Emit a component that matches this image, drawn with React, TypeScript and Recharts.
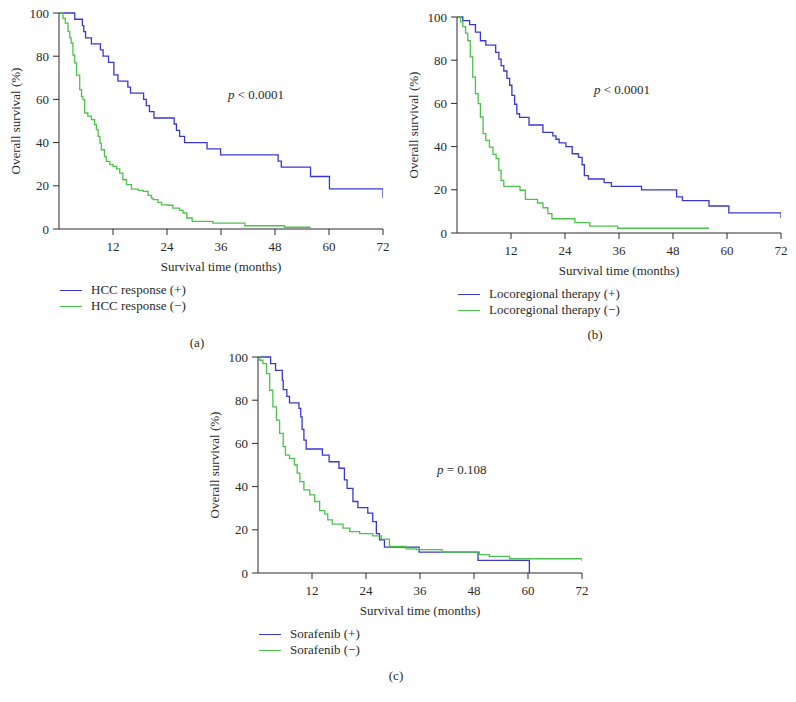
import { LineChart, Line, XAxis, YAxis } from 'recharts'

// (a) HCC response
const hccPosTime = [0, 3.5, 5.2, 5.5, 5.9, 7.2, 9.2, 9.8, 11, 12.2, 13.1, 15.3, 15.9, 18.8, 19.4, 20.1, 21.1, 25.6, 26.1, 26.8, 27.9, 32.9, 35.9, 48.7, 49.4, 55.9, 60.1, 72]
const hccPosSurv = [100, 97.1, 94.2, 91.4, 88.5, 85.7, 82.9, 80, 77.1, 71.4, 68.5, 65.7, 62.9, 60, 57.1, 54.3, 51.4, 48.6, 45.7, 42.9, 40, 37.1, 34.3, 31.4, 28.6, 24.3, 18.6, 14.3]
const hccNegTime = [0, 0.9, 1.4, 2, 2.4, 2.7, 3.1, 3.5, 3.9, 4.6, 5, 5.3, 5.7, 6.4, 7.2, 7.9, 8.3, 8.7, 9.1, 9.4, 10.1, 10.5, 11.3, 12, 12.8, 13.5, 14.2, 15, 16.1, 17.6, 18.7, 19.8, 20.5, 20.9, 22, 22.8, 24.2, 25.3, 26.8, 27.6, 28.4, 29.6, 34.2, 41.3, 50.1, 55.9]
const hccNegSurv = [100, 97.5, 95.3, 91.5, 88.5, 86.1, 80.5, 76.9, 71.2, 64.5, 61.4, 59.9, 53.7, 52.3, 50.6, 48.3, 46, 42.9, 39.8, 36.7, 33.5, 31.3, 29.8, 29, 27.8, 25.9, 22.8, 20.5, 18.5, 17.9, 17.4, 15.6, 14.3, 13.6, 12.3, 11.2, 11, 9.7, 8.6, 7.4, 5.1, 3.5, 2.7, 1.5, 0.8, 0.8]

// (b) Locoregional therapy
const locoPosTime = [0, 1.3, 2.8, 4.1, 5.2, 6.4, 8.6, 9.3, 9.8, 10.4, 11.1, 11.7, 12.2, 12.8, 13.3, 13.9, 16, 19.1, 21.3, 22, 22.7, 24.2, 25.6, 27, 27.8, 28.3, 29.2, 32.7, 34.3, 41, 48.8, 50.1, 56, 60.4, 72]
const locoPosSurv = [100, 98.3, 96.5, 93, 89, 87, 83.6, 80.5, 77.5, 75, 71.6, 68.4, 63.7, 59.6, 55.2, 53.5, 50, 46.6, 45, 43.4, 41.7, 40, 36.7, 35, 31.6, 26.6, 25, 23.3, 21.6, 20, 16.7, 15, 12.5, 9.3, 7]
const locoNegTime = [0, 0.8, 1.3, 1.9, 2.4, 2.95, 3.5, 4.1, 4.7, 5.2, 5.8, 6.4, 7.2, 8, 8.7, 9.3, 9.8, 10.4, 14, 15.2, 17.9, 19.1, 20.2, 21.1, 26.2, 29.5, 35.7, 56]
const locoNegSurv = [100, 97.7, 95.5, 92.5, 89, 81.5, 72.2, 64.5, 59.9, 53.7, 46, 42.9, 39.8, 36.4, 34.4, 29, 24.4, 21.6, 19.8, 15.6, 13.9, 11.7, 9, 6.6, 4.8, 3.2, 2.2, 2.2]

// (c) Sorafenib
const soraPosTime = [0, 2.8, 3.9, 5.4, 5.6, 6.4, 7, 9.1, 9.5, 9.8, 10.2, 10.7, 14.3, 15.8, 18, 19.2, 19.8, 21.1, 22.2, 24.4, 25.5, 26.3, 27, 28.1, 35.8, 48.9, 60.3]
const soraPosSurv = [100, 96.9, 93.8, 89.2, 84.9, 81.8, 78.8, 76.2, 72.3, 66.5, 61.5, 57.4, 54.6, 51.5, 48.5, 43.1, 39.2, 33.1, 30.3, 27.7, 23.8, 18.2, 15.4, 12, 9.7, 5.8, 0]
const soraNegTime = [0, 0.4, 1.1, 1.9, 2.6, 3.3, 4.1, 4.8, 5.6, 6.1, 7, 8.1, 8.7, 9.3, 10.2, 11.5, 12.6, 13.7, 14.8, 15.5, 16.5, 18.9, 20.4, 22.6, 25.5, 27.4, 29.2, 32.9, 35.2, 40.9, 49.2, 51.4, 55.9, 72]
const soraNegSurv = [100, 98.5, 96.9, 92.3, 84.6, 76.9, 70.8, 64.6, 58.5, 54.6, 53.1, 50, 46.2, 42.3, 38.5, 36.2, 33.1, 28.9, 27.4, 24.6, 22.6, 20.8, 19.2, 18.2, 17.2, 15.7, 12.3, 11.2, 10.8, 9.7, 8.5, 7.7, 6.6, 5.4]

const xTicks = [12, 24, 36, 48, 60, 72]
const yTicks = [0, 20, 40, 60, 80, 100]

const BLUE = '#3838d0'
const GREEN = '#4cc24c'
const INK = '#2a2a2a'
const FONT = '"Liberation Serif", "Times New Roman", serif'

const toPoints = (time: number[], surv: number[]) => time.map((t, i) => ({ t, s: surv[i] }))

const Y_AXIS_W = 59
const PLOT_W = 324
const PLOT_H = 216
const TOP = 10
const RIGHT = 14
const X_AXIS_H = 48

interface PanelProps {
  plotLeft: number
  plotTop: number
  plusTime: number[]
  plusSurv: number[]
  minusTime: number[]
  minusSurv: number[]
  plusLabel: string
  minusLabel: string
  pText: string
  pLeft: number
  pTop: number
  tag: string
  tagX: number
  tagY: number
}

function KMPanel(p: PanelProps) {
  const plus = toPoints(p.plusTime, p.plusSurv)
  const minus = toPoints(p.minusTime, p.minusSurv)
  const legendTop = p.plotTop + PLOT_H + 61
  return (
    <>
      <div style={{ position: 'absolute', left: p.plotLeft - Y_AXIS_W, top: p.plotTop - TOP }}>
        <LineChart
          width={Y_AXIS_W + PLOT_W + RIGHT}
          height={TOP + PLOT_H + X_AXIS_H}
          margin={{ top: TOP, right: RIGHT, bottom: 0, left: 0 }}
        >
          <XAxis
            dataKey="t"
            type="number"
            domain={[0, 72]}
            ticks={xTicks}
            allowDataOverflow
            height={X_AXIS_H}
            tickSize={6}
            tickMargin={7}
            stroke={INK}
            tick={{ fill: INK, fontSize: 13, fontFamily: FONT }}
            label={{ value: 'Survival time (months)', position: 'insideBottom', offset: 6.5, fill: INK, fontSize: 13, fontFamily: FONT }}
          />
          <YAxis
            dataKey="s"
            type="number"
            domain={[0, 100]}
            ticks={yTicks}
            width={Y_AXIS_W}
            tickSize={6}
            tickMargin={4}
            stroke={INK}
            tick={{ fill: INK, fontSize: 13, fontFamily: FONT }}
            label={{
              value: 'Overall survival (%)',
              angle: -90,
              position: 'insideLeft',
              offset: 15,
              fill: INK,
              fontSize: 13,
              fontFamily: FONT,
              style: { textAnchor: 'middle' },
            }}
          />
          <Line data={plus} dataKey="s" type="stepAfter" stroke={BLUE} strokeWidth={1.3} dot={false} isAnimationActive={false} />
          <Line data={minus} dataKey="s" type="stepAfter" stroke={GREEN} strokeWidth={1.3} dot={false} isAnimationActive={false} />
        </LineChart>
      </div>
      <div style={{ position: 'absolute', left: p.pLeft, top: p.pTop, fontFamily: FONT, fontSize: 13, color: INK, whiteSpace: 'nowrap', lineHeight: '16px' }}>
        <i>p</i> {p.pText}
      </div>
      {[
        { label: p.plusLabel, color: BLUE },
        { label: p.minusLabel, color: GREEN },
      ].map((it, i) => (
        <div key={it.label} style={{ position: 'absolute', left: p.plotLeft + 1, top: legendTop + i * 16 - 8, height: 16, display: 'flex', alignItems: 'center', fontFamily: FONT, fontSize: 13, color: INK, whiteSpace: 'nowrap' }}>
          <span style={{ display: 'inline-block', width: 22, height: 0, borderTop: `1.3px solid ${it.color}`, marginRight: 9 }} />
          {it.label}
        </div>
      ))}
      <div style={{ position: 'absolute', left: p.tagX - 20, width: 40, top: p.tagY - 8, lineHeight: '16px', textAlign: 'center', fontFamily: FONT, fontSize: 13, color: INK }}>
        {p.tag}
      </div>
    </>
  )
}

export default function App() {
  return (
    <div style={{ position: 'absolute', left: 0, top: 0, width: 796, height: 702, background: '#fff', overflow: 'hidden' }}>
      <KMPanel
        plotLeft={59} plotTop={13}
        plusTime={hccPosTime} plusSurv={hccPosSurv}
        minusTime={hccNegTime} minusSurv={hccNegSurv}
        plusLabel="HCC response (+)" minusLabel="HCC response (−)"
        pText="< 0.0001" pLeft={228} pTop={87}
        tag="(a)" tagX={197} tagY={343}
      />
      <KMPanel
        plotLeft={457} plotTop={17}
        plusTime={locoPosTime} plusSurv={locoPosSurv}
        minusTime={locoNegTime} minusSurv={locoNegSurv}
        plusLabel="Locoregional therapy (+)" minusLabel="Locoregional therapy (−)"
        pText="< 0.0001" pLeft={594} pTop={82}
        tag="(b)" tagX={595} tagY={335}
      />
      <KMPanel
        plotLeft={258} plotTop={357}
        plusTime={soraPosTime} plusSurv={soraPosSurv}
        minusTime={soraNegTime} minusSurv={soraNegSurv}
        plusLabel="Sorafenib (+)" minusLabel="Sorafenib (−)"
        pText="= 0.108" pLeft={437} pTop={462}
        tag="(c)" tagX={396} tagY={676}
      />
    </div>
  )
}
